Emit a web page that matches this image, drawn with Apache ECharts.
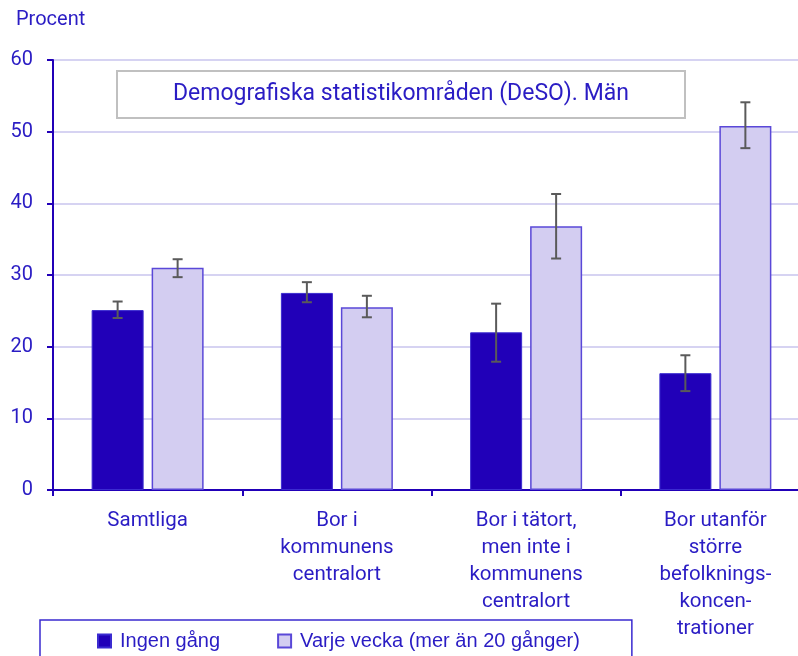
<!DOCTYPE html>
<html lang="sv">
<head>
    <meta charset="UTF-8">
    <script src="https://cdn.jsdelivr.net/npm/echarts@6/dist/echarts.min.js"></script>
    <style>
        html, body { margin: 0; padding: 0; background: #fff; }
    </style>
</head>
<body>
    <div id="main" style="width: 798px; height: 656px;"></div>
    <script>
        var categories = [
            'Samtliga',
            'Bor i\nkommunens\ncentralort',
            'Bor i tätort,\nmen inte i\nkommunens\ncentralort',
            'Bor utanför\nstörre\nbefolknings-\nkoncen-\ntrationer'
        ];
        var seriesNames = ['Ingen gång', 'Varje vecka (mer än 20 gånger)'];

        var ingenGang = [25.1, 27.5, 22.0, 16.3];
        var ingenGangLow = [24.0, 26.2, 17.9, 13.8];
        var ingenGangHigh = [26.3, 29.0, 26.0, 18.8];

        var varjeVecka = [31.0, 25.5, 36.8, 50.8];
        var varjeVeckaLow = [29.7, 24.1, 32.3, 47.7];
        var varjeVeckaHigh = [32.2, 27.1, 41.3, 54.1];

        var blue = '#2a1cc4';
        var darkBar = '#2100b8';
        var lightBar = '#d3cdf1';
        var barWidth = 52;
        var barGap = 8;

        function errorData(low, high) {
            return low.map(function (l, i) { return [i, l, high[i]]; });
        }

        function errorSeries(low, high, offset) {
            return {
                type: 'custom',
                z: 5,
                silent: true,
                data: errorData(low, high),
                renderItem: function (params, api) {
                    var lo = api.coord([api.value(0), api.value(1)]);
                    var hi = api.coord([api.value(0), api.value(2)]);
                    var x = lo[0] + offset;
                    var half = 5;
                    var style = { stroke: '#5a5a5a', lineWidth: 2 };
                    return {
                        type: 'group',
                        children: [
                            { type: 'line', shape: { x1: x, y1: hi[1], x2: x, y2: lo[1] }, style: style },
                            { type: 'line', shape: { x1: x - half, y1: hi[1], x2: x + half, y2: hi[1] }, style: style },
                            { type: 'line', shape: { x1: x - half, y1: lo[1], x2: x + half, y2: lo[1] }, style: style }
                        ]
                    };
                }
            };
        }

        var chart = echarts.init(document.getElementById('main'));
        var offset = (barWidth + barGap) / 2;

        chart.setOption({
            animation: false,
            textStyle: { fontFamily: 'Roboto' },
            title: [{
                text: 'Demografiska statistikområden (DeSO). Män',
                left: 117,
                top: 71,
                padding: [12, 56, 12, 56],
                borderColor: '#c0c0c0',
                borderWidth: 2,
                backgroundColor: '#fff',
                textStyle: { color: blue, fontSize: 23, fontWeight: 'normal', fontFamily: 'Roboto' }
            }, {
                text: 'Procent',
                left: 16,
                top: 10,
                padding: 0,
                textStyle: { color: blue, fontSize: 20, fontWeight: 'normal', fontFamily: 'Roboto' }
            }],
            legend: {
                data: seriesNames,
                left: 40,
                top: 620,
                padding: [11, 52, 14, 57],
                borderColor: '#3a2ad0',
                borderWidth: 1.5,
                itemWidth: 13,
                itemHeight: 13,
                itemGap: 57,
                icon: 'rect',
                textStyle: { color: blue, fontSize: 20, fontFamily: 'Liberation Sans', padding: [0, 0, 0, 4] }
            },
            grid: {
                left: 53,
                width: 757,
                top: 60,
                bottom: 166,
                outerBoundsMode: 'none',
                containLabel: false
            },
            xAxis: {
                type: 'category',
                data: categories,
                axisLine: { lineStyle: { color: darkBar, width: 2 } },
                axisTick: { show: true, length: 6, lineStyle: { color: darkBar, width: 2 } },
                axisLabel: {
                    color: blue,
                    fontSize: 20.5,
                    lineHeight: 27,
                    margin: 17,
                    interval: 0,
                    fontFamily: 'Roboto'
                }
            },
            yAxis: {
                type: 'value',
                min: 0,
                max: 60,
                interval: 10,
                axisLine: { show: true, lineStyle: { color: darkBar, width: 2 } },
                axisTick: { show: true, length: 6, lineStyle: { color: darkBar, width: 2 } },
                axisLabel: { color: blue, fontSize: 20, margin: 20, fontFamily: 'Roboto' },
                splitLine: { lineStyle: { color: '#d6d3f2', width: 2 } }
            },
            series: [{
                name: seriesNames[0],
                type: 'bar',
                data: ingenGang,
                barWidth: barWidth,
                barGap: (barGap / barWidth * 100) + '%',
                itemStyle: { color: darkBar, borderColor: '#3b2bd0', borderWidth: 1 }
            }, {
                name: seriesNames[1],
                type: 'bar',
                data: varjeVecka,
                barWidth: barWidth,
                itemStyle: { color: lightBar, borderColor: '#5a48d8', borderWidth: 1.5 }
            },
            errorSeries(ingenGangLow, ingenGangHigh, -offset),
            errorSeries(varjeVeckaLow, varjeVeckaHigh, offset)]
        });
    </script>
</body>
</html>
